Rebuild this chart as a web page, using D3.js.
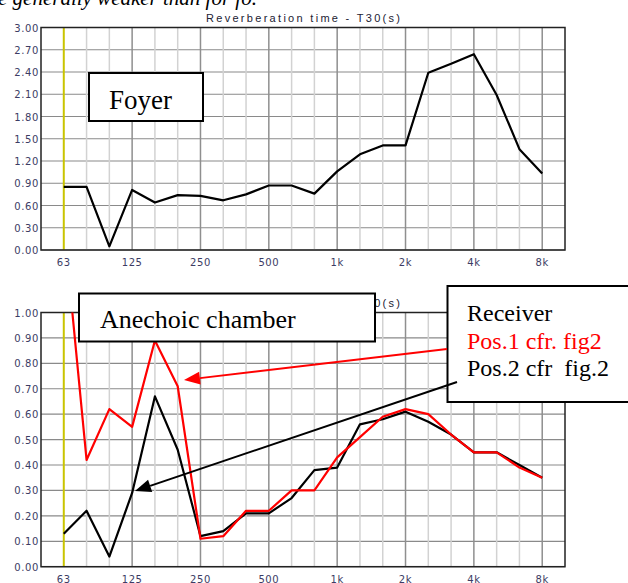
<!DOCTYPE html>
<meta charset="utf-8">
<style>
body { margin: 0; background: #fff; }
.tick-label { font: 10px "DejaVu Sans", sans-serif; fill: #3c3c64; letter-spacing: 0.6px; }
.title { font: 11px "Liberation Sans", Arial, sans-serif; fill: #223; }
.note { font-family: "Liberation Serif", "Times New Roman", serif; }
</style>
<svg width="628" height="583"></svg>
<script src="https://d3js.org/d3.v7.min.js"></script>
<script>

var bands = ["63", "80", "100", "125", "160", "200", "250", "315", "400", "500", "630", "800",
             "1k", "1.25k", "1.6k", "2k", "2.5k", "3.15k", "4k", "5k", "6.3k", "8k"];
var labelled = ["63", "125", "250", "500", "1k", "2k", "4k", "8k"];

var foyer = [0.85, 0.85, 0.05, 0.81, 0.64, 0.74, 0.73, 0.67, 0.75, 0.87, 0.87, 0.76,
             1.06, 1.29, 1.41, 1.41, 2.39, 2.51, 2.64, 2.09, 1.36, 1.03];
var pos1 = [1.35, 0.42, 0.62, 0.55, 0.89, 0.71, 0.11, 0.12, 0.22, 0.22, 0.30, 0.30,
            0.43, 0.51, 0.59, 0.62, 0.60, 0.52, 0.45, 0.45, 0.39, 0.35];
var pos2 = [0.13, 0.22, 0.04, 0.29, 0.67, 0.46, 0.12, 0.14, 0.21, 0.21, 0.27, 0.38,
            0.39, 0.56, 0.58, 0.61, 0.57, 0.52, 0.45, 0.45, 0.40, 0.35];

var foyerTicks = d3.range(0, 11).map(function(i) { return i * 0.3; });
var anechoicTicks = d3.range(0, 11).map(function(i) { return i * 0.1; });

var svg = d3.select("svg");

var x = d3.scalePoint()
    .domain(bands)
    .range([41, 565])
    .padding(1);

// cut-off line of body text above the figure
svg.append("text")
    .attr("class", "note")
    .attr("x", -2)
    .attr("y", 5)
    .style("font-size", "21px")
    .style("font-style", "italic")
    .text("e generally weaker than for fo.");

function panel(top, bottom, maxY, ticks, id) {
  var y = d3.scaleLinear().domain([0, maxY]).range([bottom, top]);
  var g = svg.append("g");

  g.append("clipPath").attr("id", id)
    .append("rect")
      .attr("x", x.range()[0]).attr("y", top)
      .attr("width", x.range()[1] - x.range()[0]).attr("height", bottom - top);

  // horizontal grid
  g.append("g").selectAll("line")
    .data(ticks)
    .enter().append("line")
      .attr("x1", x.range()[0]).attr("x2", x.range()[1])
      .attr("y1", function(d) { return y(d); })
      .attr("y2", function(d) { return y(d); })
      .attr("stroke", "#8a8a8a")
      .attr("stroke-width", 1.2);

  // vertical grid, octave lines darker
  g.append("g").selectAll("line")
    .data(bands.slice(1))
    .enter().append("line")
      .attr("x1", function(d) { return x(d); })
      .attr("x2", function(d) { return x(d); })
      .attr("y1", top).attr("y2", bottom)
      .attr("stroke", function(d) { return labelled.indexOf(d) >= 0 ? "#8f8f8f" : "#d2d2d2"; })
      .attr("stroke-width", 1.5);

  g.append("line")
      .attr("x1", x("63")).attr("x2", x("63"))
      .attr("y1", top).attr("y2", bottom)
      .attr("stroke", "#c9c400")
      .attr("stroke-width", 2);

  g.append("rect")
      .attr("x", x.range()[0]).attr("y", top)
      .attr("width", x.range()[1] - x.range()[0]).attr("height", bottom - top)
      .attr("fill", "none")
      .attr("stroke", "#222")
      .attr("stroke-width", 1.5);

  g.append("g").selectAll("text")
    .data(ticks)
    .enter().append("text")
      .attr("class", "tick-label")
      .attr("x", 39)
      .attr("y", function(d) { return y(d) + 4; })
      .attr("text-anchor", "end")
      .text(function(d) { return d3.format(".2f")(d); });

  g.append("g").selectAll("text")
    .data(labelled)
    .enter().append("text")
      .attr("class", "tick-label")
      .attr("x", function(d) { return x(d); })
      .attr("y", bottom + 16)
      .attr("text-anchor", "middle")
      .text(function(d) { return d; });

  g.append("text")
      .attr("class", "title")
      .attr("x", 206)
      .attr("y", top - 5.5)
      .attr("textLength", 194)
      .attr("lengthAdjust", "spacing")
      .text("Reverberation time - T30(s)");

  return {g: g, y: y};
}

function drawLine(p, values, color, id) {
  var line = d3.line()
      .x(function(d, i) { return x(bands[i]); })
      .y(function(d) { return p.y(d); });
  p.g.append("path")
      .datum(values)
      .attr("clip-path", "url(#" + id + ")")
      .attr("d", line)
      .attr("fill", "none")
      .attr("stroke", color)
      .attr("stroke-width", 2.2)
      .attr("stroke-linejoin", "round");
}

var topPanel = panel(27.5, 250, 3, foyerTicks, "clipTop");
drawLine(topPanel, foyer, "#000", "clipTop");

svg.append("rect")
    .attr("x", 89).attr("y", 73)
    .attr("width", 114).attr("height", 48)
    .attr("fill", "#fff").attr("stroke", "#000").attr("stroke-width", 2);
svg.append("text")
    .attr("class", "note")
    .attr("x", 109).attr("y", 109)
    .style("font-size", "27px")
    .text("Foyer");

var botPanel = panel(312.5, 566.7, 1, anechoicTicks, "clipBot");
drawLine(botPanel, pos2, "#000", "clipBot");
drawLine(botPanel, pos1, "#f00", "clipBot");

svg.append("rect")
    .attr("x", 79).attr("y", 293.5)
    .attr("width", 296).attr("height", 48)
    .attr("fill", "#fff").attr("stroke", "#000").attr("stroke-width", 2);
svg.append("text")
    .attr("class", "note")
    .attr("x", 100).attr("y", 328)
    .style("font-size", "26px")
    .text("Anechoic chamber");

svg.append("rect")
    .attr("x", 447.5).attr("y", 286)
    .attr("width", 182).attr("height", 116)
    .attr("fill", "#fff").attr("stroke", "#000").attr("stroke-width", 2);

var legendLines = [
  {text: "Receiver", color: "#000"},
  {text: "Pos.1 cfr. fig2", color: "#f00"},
  {text: "Pos.2 cfr\u00a0 fig.2", color: "#000"}
];
svg.append("g").selectAll("text")
  .data(legendLines)
  .enter().append("text")
    .attr("class", "note")
    .attr("x", 467)
    .attr("y", function(d, i) { return 321 + i * 27.5; })
    .style("font-size", "24px")
    .attr("fill", function(d) { return d.color; })
    .text(function(d) { return d.text; });

function arrow(x1, y1, x2, y2, color) {
  var a = Math.atan2(y2 - y1, x2 - x1),
      len = 16, half = 6.5;
  var bx = x2 - len * Math.cos(a), by = y2 - len * Math.sin(a);
  svg.append("line")
      .attr("x1", x1).attr("y1", y1)
      .attr("x2", bx).attr("y2", by)
      .attr("stroke", color).attr("stroke-width", 2);
  svg.append("path")
      .attr("d", "M" + x2 + "," + y2 +
                 "L" + (bx + half * Math.sin(a)) + "," + (by - half * Math.cos(a)) +
                 "L" + (bx - half * Math.sin(a)) + "," + (by + half * Math.cos(a)) + "Z")
      .attr("fill", color);
}

arrow(447, 349, 184, 380, "#f00");
arrow(457, 382, 135, 491, "#000");

</script>
